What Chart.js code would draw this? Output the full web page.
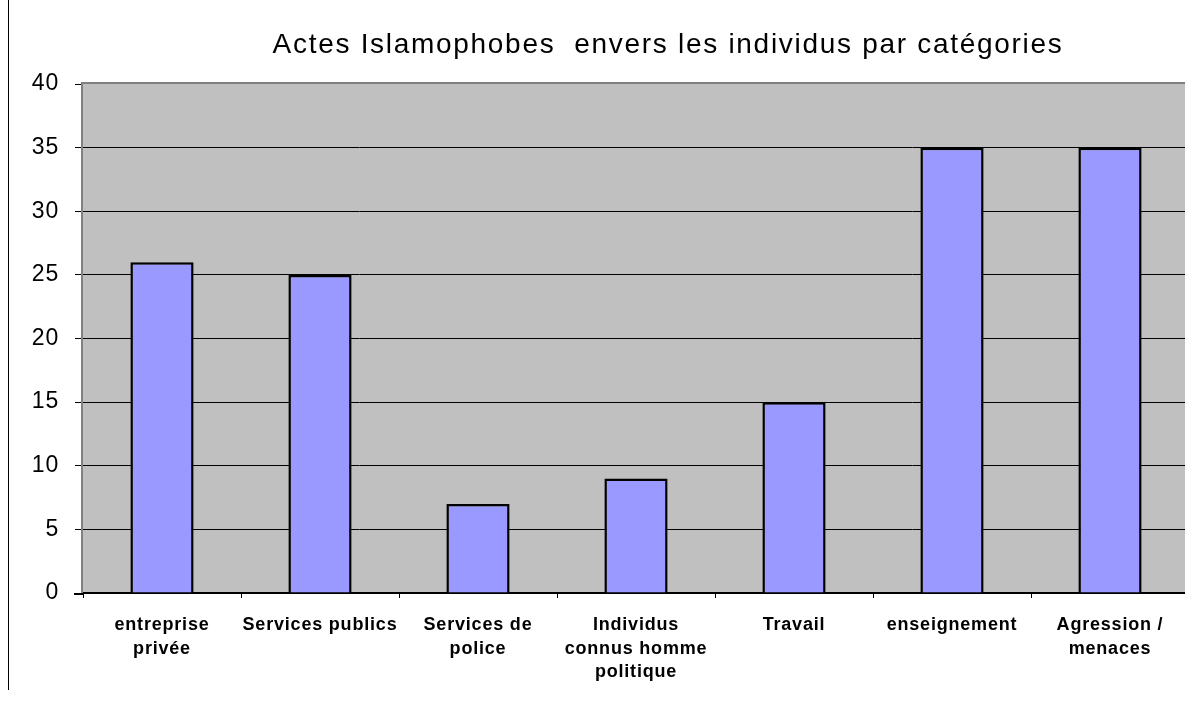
<!DOCTYPE html>
<html>
<head>
<meta charset="utf-8">
<script src="https://cdn.jsdelivr.net/npm/chart.js@4"></script>
<style>
  html, body { margin: 0; padding: 0; background: #fff; overflow: hidden; }
  #wrap { position: absolute; left: 0; top: 0; width: 1189px; height: 704px; }
</style>
</head>
<body>
<div id="wrap"><canvas id="chart"></canvas></div>
<script>
// data
var categories = [
    ['entreprise', 'privée'],
    'Services publics',
    ['Services de', 'police'],
    ['Individus', 'connus homme', 'politique'],
    'Travail',
    'enseignement',
    ['Agression /', 'menaces']
];
var actes = [26, 25, 7, 9, 15, 35, 35];
var yTicks = [0, 5, 10, 15, 20, 25, 30, 35, 40];
var title = 'Actes Islamophobes  envers les individus par catégories';

var frame = {
    id: 'frame',
    beforeDraw: function(chart) {
        var a = chart.chartArea, ctx = chart.ctx;
        ctx.save();
        ctx.fillStyle = '#c0c0c0';
        ctx.fillRect(a.left, a.top, a.right - a.left, a.bottom - a.top);
        ctx.restore();
        // the old chart spaces its letters out a bit
        ctx.letterSpacing = '0.8px';
    },
    afterDraw: function(chart) {
        var a = chart.chartArea, ctx = chart.ctx;
        ctx.save();
        ctx.strokeStyle = '#808080';
        ctx.lineWidth = 2;
        ctx.beginPath();
        ctx.moveTo(a.left - 1, a.bottom);
        ctx.lineTo(a.left - 1, a.top - 1);
        ctx.lineTo(a.right, a.top - 1);
        ctx.stroke();
        ctx.strokeStyle = '#000';
        ctx.beginPath();
        ctx.moveTo(74, a.bottom + 1);
        ctx.lineTo(a.left, a.bottom + 1);
        ctx.stroke();
        // black rule at the page's left
        ctx.lineWidth = 1;
        ctx.beginPath();
        ctx.moveTo(8.5, 0);
        ctx.lineTo(8.5, 690);
        ctx.stroke();
        ctx.fillStyle = '#000';
        ctx.font = '28px "Liberation Sans", Arial, sans-serif';
        ctx.letterSpacing = '1.7px';
        ctx.textAlign = 'center';
        ctx.textBaseline = 'alphabetic';
        ctx.fillText(title, 668, 53);
        ctx.restore();
        ctx.letterSpacing = '0px';
    }
};

new Chart(document.getElementById('chart'), {
    type: 'bar',
    data: {
        labels: categories,
        datasets: [{
            data: actes,
            backgroundColor: '#9999ff',
            borderColor: '#000',
            borderWidth: 2.5,
            barPercentage: 0.4,
            categoryPercentage: 1
        }]
    },
    options: {
        responsive: true,
        maintainAspectRatio: false,
        animation: false,
        layout: { padding: { top: 84, left: 0, right: 0, bottom: 0 } },
        plugins: {
            legend: { display: false },
            tooltip: { enabled: false }
        },
        scales: {
            x: {
                grid: { display: true, offset: true, drawOnChartArea: false, tickLength: 5, color: '#000', lineWidth: 1 },
                border: { color: '#000', width: 2 },
                ticks: {
                    color: '#000',
                    maxRotation: 0,
                    autoSkip: false,
                    padding: 16,
                    font: { family: '"Liberation Sans", Arial, sans-serif', size: 18, weight: 'bold', lineHeight: 1.28 }
                },
                afterFit: function(scale) { scale.height = 111; }
            },
            y: {
                min: 0,
                max: 40,
                afterBuildTicks: function(scale) {
                    scale.ticks = yTicks.map(function(v) { return { value: v }; });
                },
                grid: {
                    color: function(c) { return c.tick && c.tick.value === 40 ? 'rgba(0,0,0,0)' : '#000'; },
                    tickColor: '#000',
                    lineWidth: 1,
                    tickLength: 8
                },
                border: { display: false },
                ticks: {
                    color: '#000',
                    padding: 16,
                    font: { family: '"Liberation Sans", Arial, sans-serif', size: 23 }
                },
                afterFit: function(scale) { scale.width = 83; }
            }
        }
    },
    plugins: [frame]
});
</script>
</body>
</html>
